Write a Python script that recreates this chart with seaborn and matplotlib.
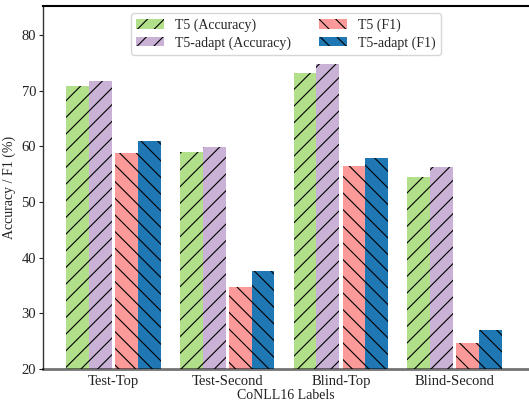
import numpy as np
import pandas as pd
import matplotlib
matplotlib.use('Agg')
import matplotlib.pyplot as plt
from matplotlib.patches import Patch
import seaborn as sns

labels = ['Test-Top', 'Test-Second', 'Blind-Top', 'Blind-Second']
models = ['T5 (Accuracy)', 'T5-adapt (Accuracy)', 'T5 (F1)', 'T5-adapt (F1)']
t5_acc = [70.9, 59.0, 73.1, 54.4]
t5a_acc = [71.7, 59.8, 74.7, 56.3]
t5_f1 = [58.8, 34.7, 56.4, 24.7]
t5a_f1 = [60.9, 37.6, 57.9, 27.0]

colors = ['#b2df8a', '#cab2d6', '#fb9a99', '#1f78b4']
hatches = ['//', '//', '\\\\', '\\\\']

rows = []
for m, vals in zip(models, [t5_acc, t5a_acc, t5_f1, t5a_f1]):
    for lab, v in zip(labels, vals):
        rows.append({'label': lab, 'model': m, 'value': v})
df = pd.DataFrame(rows)

sns.set_style('ticks')
plt.rcParams['font.family'] = ['Liberation Serif', 'DejaVu Serif']
plt.rcParams['hatch.linewidth'] = 0.8

fig = plt.figure(figsize=(5.29, 4.01), dpi=100)
ax = fig.add_axes([43/529, 32/401, 1 - 43/529, (369-6)/401])

sns.barplot(data=df, x='label', y='value', hue='model', order=labels,
            hue_order=models, palette=colors, saturation=1, width=0.8,
            legend=False, ax=ax)

# small gap between the accuracy pair and the F1 pair
shifts = [-0.015, -0.015, 0.015, 0.015]
for cont, h, s in zip(ax.containers, hatches, shifts):
    for p in cont.patches:
        p.set_x(p.get_x() + s)
        p.set_hatch(h)
        p.set_edgecolor('black')
        p.set_linewidth(0)

ax.set_ylim(20, 85.2)
ax.set_xlim(-0.62, 3.654)
ax.set_yticks([20, 30, 40, 50, 60, 70, 80])
ax.tick_params(axis='y', labelsize=10.5, length=3, width=0.8, colors='#222222', pad=2)
ax.tick_params(axis='x', labelsize=10.5, length=0, pad=4, colors='#222222')
ax.set_xlabel('CoNLL16 Labels', fontsize=10, labelpad=1, color='#222222')
ax.set_ylabel('Accuracy / F1 (%)', fontsize=10, labelpad=4, color='#222222')

ax.spines['right'].set_visible(False)
ax.spines['top'].set_color('black')
ax.spines['top'].set_linewidth(1.5)
ax.spines['left'].set_color('#333333')
ax.spines['left'].set_linewidth(1.0)
ax.spines['bottom'].set_color((0, 0, 0, 0.55))
ax.spines['bottom'].set_linewidth(2)

handles = [Patch(facecolor=c, hatch=h, edgecolor='black', linewidth=0, label=m)
           for c, h, m in zip(colors, hatches, models)]
ax.legend(handles=handles, loc='upper center', ncol=2, fontsize=10,
          bbox_to_anchor=(0.5, 1.0), frameon=True, columnspacing=2.0,
          labelspacing=0.3, borderpad=0.4)

fig.savefig('out.png', dpi=100)
